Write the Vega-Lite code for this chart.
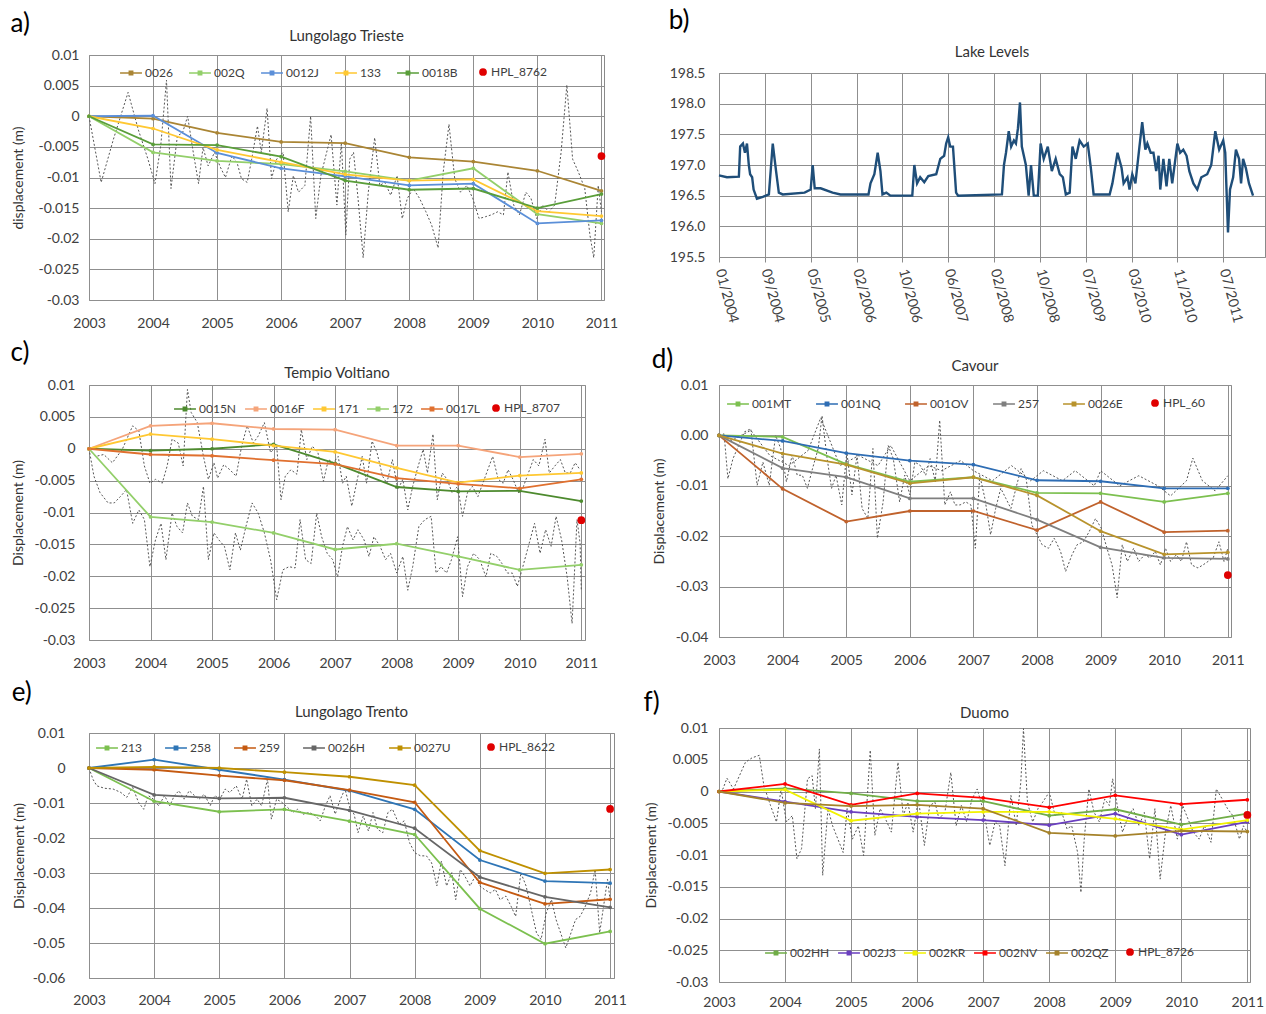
{
"$schema": "https://vega.github.io/schema/vega-lite/v6.json",
"background": "white",
"padding": {"left": 10, "top": 0, "right": 2, "bottom": 0},
"config": {
  "font": "Lato",
  "view": {"stroke": "#8a8a8a", "strokeWidth": 1},
  "axis": {"gridColor": "#8f8f8f", "gridWidth": 1, "domain": false, "ticks": false, "labelFont": "Lato", "labelFontSize": 14, "labelColor": "#404040", "titleFont": "Lato", "titleFontSize": 14, "titleFontWeight": "normal", "titleColor": "#333333"},
  "legend": {"orient": "none", "direction": "horizontal", "labelFont": "Lato", "labelFontSize": 12, "labelColor": "#404040", "symbolType": "M-1,0H1M-0.15,-0.15H0.15V0.15H-0.15Z", "symbolSize": 480, "symbolStrokeWidth": 1.6, "labelOffset": 2, "padding": 0},
  "title": {"font": "Lato", "fontWeight": "normal"}
},
"datasets": {
"spacer": [{"v": 0}],
"a_ln": [
{"series":"0026","year":2003,"disp":0},{"series":"0026","year":2004,"disp":-0.0004},{"series":"0026","year":2005,"disp":-0.0027},{"series":"0026","year":2006,"disp":-0.0042},{"series":"0026","year":2007,"disp":-0.0044},{"series":"0026","year":2008,"disp":-0.0067},{"series":"0026","year":2009,"disp":-0.0074},{"series":"0026","year":2010,"disp":-0.0089},{"series":"0026","year":2011,"disp":-0.0122},
{"series":"002Q","year":2003,"disp":0},{"series":"002Q","year":2004,"disp":-0.0059},{"series":"002Q","year":2005,"disp":-0.0073},{"series":"002Q","year":2006,"disp":-0.0078},{"series":"002Q","year":2007,"disp":-0.009},{"series":"002Q","year":2008,"disp":-0.0105},{"series":"002Q","year":2009,"disp":-0.0085},{"series":"002Q","year":2010,"disp":-0.016},{"series":"002Q","year":2011,"disp":-0.0175},
{"series":"0012J","year":2003,"disp":0},{"series":"0012J","year":2004,"disp":0.0001},{"series":"0012J","year":2005,"disp":-0.006},{"series":"0012J","year":2006,"disp":-0.0085},{"series":"0012J","year":2007,"disp":-0.0098},{"series":"0012J","year":2008,"disp":-0.0113},{"series":"0012J","year":2009,"disp":-0.011},{"series":"0012J","year":2010,"disp":-0.0175},{"series":"0012J","year":2011,"disp":-0.017},
{"series":"133","year":2003,"disp":0},{"series":"133","year":2004,"disp":-0.002},{"series":"133","year":2005,"disp":-0.0055},{"series":"133","year":2006,"disp":-0.0075},{"series":"133","year":2007,"disp":-0.0095},{"series":"133","year":2008,"disp":-0.0105},{"series":"133","year":2009,"disp":-0.0103},{"series":"133","year":2010,"disp":-0.0155},{"series":"133","year":2011,"disp":-0.0163},
{"series":"0018B","year":2003,"disp":0},{"series":"0018B","year":2004,"disp":-0.0046},{"series":"0018B","year":2005,"disp":-0.0047},{"series":"0018B","year":2006,"disp":-0.0066},{"series":"0018B","year":2007,"disp":-0.0105},{"series":"0018B","year":2008,"disp":-0.012},{"series":"0018B","year":2009,"disp":-0.0118},{"series":"0018B","year":2010,"disp":-0.015},{"series":"0018B","year":2011,"disp":-0.0127}
],
"a_hpl": [{"series":"HPL_8762","year":2011,"disp":-0.0065}],
"a_dot": [
{"year":2003,"disp":0},{"year":2003.19,"disp":-0.0108},{"year":2003.38,"disp":-0.0038},{"year":2003.61,"disp":0.0039},{"year":2003.77,"disp":-0.0022},{"year":2003.92,"disp":-0.007},{"year":2004.03,"disp":-0.011},{"year":2004.12,"disp":-0.0048},{"year":2004.21,"disp":0.0059},{"year":2004.28,"disp":-0.0118},{"year":2004.38,"disp":-0.0032},{"year":2004.46,"disp":-0.0027},{"year":2004.54,"disp":0},{"year":2004.62,"disp":-0.0054},{"year":2004.71,"disp":-0.011},{"year":2004.78,"disp":-0.0051},{"year":2004.86,"disp":-0.0081},{"year":2004.96,"disp":-0.0059},{"year":2005.05,"disp":-0.0083},{"year":2005.13,"disp":-0.01},{"year":2005.23,"disp":-0.0065},{"year":2005.31,"disp":-0.0075},{"year":2005.38,"disp":-0.0102},{"year":2005.47,"disp":-0.0108},{"year":2005.54,"disp":-0.007},{"year":2005.63,"disp":-0.0016},{"year":2005.69,"disp":-0.0059},{"year":2005.78,"disp":0.0013},{"year":2005.85,"disp":-0.0102},{"year":2005.93,"disp":-0.007},{"year":2006.03,"disp":-0.0059},{"year":2006.11,"disp":-0.0156},{"year":2006.19,"disp":-0.0097},{"year":2006.27,"disp":-0.0124},{"year":2006.37,"disp":-0.0113},{"year":2006.46,"disp":0},{"year":2006.54,"disp":-0.0167},{"year":2006.62,"disp":-0.0097},{"year":2006.71,"disp":-0.0059},{"year":2006.78,"disp":-0.003},{"year":2006.87,"disp":-0.0145},{"year":2006.94,"disp":-0.0043},{"year":2007.01,"disp":-0.0194},{"year":2007.07,"disp":-0.007},{"year":2007.13,"disp":-0.0059},{"year":2007.2,"disp":-0.0134},{"year":2007.28,"disp":-0.0231},{"year":2007.36,"disp":-0.0124},{"year":2007.46,"disp":-0.0035},{"year":2007.54,"disp":-0.0113},{"year":2007.62,"disp":-0.0108},{"year":2007.71,"disp":-0.0129},{"year":2007.81,"disp":-0.0097},{"year":2007.89,"disp":-0.0167},{"year":2007.97,"disp":-0.0134},{"year":2008.06,"disp":-0.0118},{"year":2008.16,"disp":-0.0134},{"year":2008.26,"disp":-0.0156},{"year":2008.35,"disp":-0.0178},{"year":2008.45,"disp":-0.0215},{"year":2008.53,"disp":-0.0091},{"year":2008.62,"disp":-0.0013},{"year":2008.71,"disp":-0.0102},{"year":2008.8,"disp":-0.0124},{"year":2008.9,"disp":-0.0113},{"year":2008.99,"disp":-0.0134},{"year":2009.09,"disp":-0.0167},{"year":2009.19,"disp":-0.0164},{"year":2009.28,"disp":-0.0161},{"year":2009.38,"disp":-0.0156},{"year":2009.47,"disp":-0.0161},{"year":2009.54,"disp":-0.0091},{"year":2009.63,"disp":-0.0145},{"year":2009.72,"disp":-0.0161},{"year":2009.82,"disp":-0.0124},{"year":2009.9,"disp":-0.0134},{"year":2009.99,"disp":-0.0167},{"year":2010.08,"disp":-0.0145},{"year":2010.18,"disp":-0.0156},{"year":2010.27,"disp":-0.0145},{"year":2010.37,"disp":-0.0059},{"year":2010.46,"disp":0.0051},{"year":2010.55,"disp":-0.007},{"year":2010.64,"disp":-0.0091},{"year":2010.74,"disp":-0.0118},{"year":2010.82,"disp":-0.0194},{"year":2010.88,"disp":-0.0231},{"year":2010.95,"disp":-0.0113},{"year":2011,"disp":-0.0156}
],
"lake": [
{"date":"2004-01-18","level":196.83},{"date":"2004-03-01","level":196.8},{"date":"2004-05-05","level":196.81},{"date":"2004-05-12","level":197.3},{"date":"2004-05-27","level":197.35},{"date":"2004-06-07","level":197.2},{"date":"2004-06-18","level":197.35},{"date":"2004-06-28","level":197.0},{"date":"2004-07-05","level":196.85},{"date":"2004-07-16","level":196.8},{"date":"2004-07-24","level":196.6},{"date":"2004-08-11","level":196.45},{"date":"2004-09-12","level":196.48},{"date":"2004-10-15","level":196.52},{"date":"2004-11-05","level":197.35},{"date":"2004-11-23","level":196.9},{"date":"2004-12-08","level":196.55},{"date":"2004-12-29","level":196.52},{"date":"2005-04-27","level":196.55},{"date":"2005-05-30","level":196.6},{"date":"2005-06-10","level":197.0},{"date":"2005-06-21","level":196.62},{"date":"2005-07-23","level":196.62},{"date":"2005-09-26","level":196.55},{"date":"2005-11-08","level":196.52},{"date":"2006-04-09","level":196.52},{"date":"2006-04-20","level":196.7},{"date":"2006-05-11","level":196.85},{"date":"2006-05-29","level":197.2},{"date":"2006-06-13","level":196.9},{"date":"2006-06-24","level":196.52},{"date":"2006-07-15","level":196.55},{"date":"2006-08-06","level":196.5},{"date":"2006-12-03","level":196.5},{"date":"2006-12-14","level":197.0},{"date":"2006-12-29","level":196.7},{"date":"2007-01-15","level":196.8},{"date":"2007-02-06","level":196.72},{"date":"2007-02-28","level":196.82},{"date":"2007-04-12","level":196.85},{"date":"2007-05-04","level":197.1},{"date":"2007-05-25","level":197.15},{"date":"2007-06-05","level":197.35},{"date":"2007-06-16","level":197.45},{"date":"2007-06-27","level":197.3},{"date":"2007-07-12","level":197.3},{"date":"2007-07-29","level":196.55},{"date":"2007-08-09","level":196.5},{"date":"2008-04-03","level":196.52},{"date":"2008-04-14","level":197.0},{"date":"2008-04-25","level":197.2},{"date":"2008-05-10","level":197.55},{"date":"2008-05-23","level":197.3},{"date":"2008-06-07","level":197.4},{"date":"2008-06-18","level":197.35},{"date":"2008-06-29","level":197.6},{"date":"2008-07-10","level":198.02},{"date":"2008-07-20","level":197.3},{"date":"2008-08-11","level":197.0},{"date":"2008-08-26","level":196.5},{"date":"2008-09-08","level":197.0},{"date":"2008-09-23","level":196.5},{"date":"2008-10-15","level":196.5},{"date":"2008-10-30","level":197.35},{"date":"2008-11-16","level":197.1},{"date":"2008-12-08","level":197.3},{"date":"2008-12-30","level":196.9},{"date":"2009-01-20","level":197.1},{"date":"2009-02-11","level":196.85},{"date":"2009-02-28","level":196.8},{"date":"2009-03-16","level":196.52},{"date":"2009-04-06","level":196.55},{"date":"2009-04-21","level":197.3},{"date":"2009-05-09","level":197.1},{"date":"2009-05-30","level":197.4},{"date":"2009-06-21","level":197.3},{"date":"2009-07-13","level":197.35},{"date":"2009-07-30","level":196.95},{"date":"2009-08-14","level":196.52},{"date":"2009-11-09","level":196.52},{"date":"2009-11-24","level":196.7},{"date":"2009-12-22","level":197.2},{"date":"2010-01-13","level":196.95},{"date":"2010-01-24","level":196.7},{"date":"2010-02-14","level":196.8},{"date":"2010-02-25","level":196.6},{"date":"2010-03-12","level":196.85},{"date":"2010-03-29","level":196.7},{"date":"2010-04-20","level":197.3},{"date":"2010-05-05","level":197.7},{"date":"2010-05-22","level":197.25},{"date":"2010-06-02","level":197.35},{"date":"2010-06-20","level":197.2},{"date":"2010-07-05","level":197.2},{"date":"2010-07-20","level":196.9},{"date":"2010-08-02","level":197.15},{"date":"2010-08-11","level":196.6},{"date":"2010-08-28","level":197.1},{"date":"2010-09-14","level":196.65},{"date":"2010-09-29","level":197.1},{"date":"2010-10-15","level":196.7},{"date":"2010-11-12","level":197.35},{"date":"2010-11-27","level":197.2},{"date":"2010-12-14","level":197.25},{"date":"2011-01-01","level":197.15},{"date":"2011-01-16","level":196.9},{"date":"2011-02-07","level":196.7},{"date":"2011-02-28","level":196.6},{"date":"2011-03-22","level":196.8},{"date":"2011-04-23","level":196.85},{"date":"2011-05-15","level":197.0},{"date":"2011-06-06","level":197.55},{"date":"2011-06-27","level":197.25},{"date":"2011-07-19","level":197.4},{"date":"2011-07-30","level":197.2},{"date":"2011-08-14","level":195.9},{"date":"2011-08-25","level":196.6},{"date":"2011-09-11","level":196.8},{"date":"2011-09-26","level":197.25},{"date":"2011-10-13","level":197.1},{"date":"2011-10-24","level":196.7},{"date":"2011-11-04","level":197.1},{"date":"2011-11-19","level":196.95},{"date":"2011-12-06","level":196.7},{"date":"2011-12-28","level":196.5}
],
"c_ln": [
{"series":"0015N","year":2003,"disp":0},{"series":"0015N","year":2004,"disp":-0.0003},{"series":"0015N","year":2005,"disp":0},{"series":"0015N","year":2006,"disp":0.0007},{"series":"0015N","year":2007,"disp":-0.0023},{"series":"0015N","year":2008,"disp":-0.006},{"series":"0015N","year":2009,"disp":-0.0067},{"series":"0015N","year":2010,"disp":-0.0066},{"series":"0015N","year":2011,"disp":-0.0082},
{"series":"0016F","year":2003,"disp":0},{"series":"0016F","year":2004,"disp":0.0036},{"series":"0016F","year":2005,"disp":0.004},{"series":"0016F","year":2006,"disp":0.0031},{"series":"0016F","year":2007,"disp":0.003},{"series":"0016F","year":2008,"disp":0.0005},{"series":"0016F","year":2009,"disp":0.0005},{"series":"0016F","year":2010,"disp":-0.0013},{"series":"0016F","year":2011,"disp":-0.0008},
{"series":"171","year":2003,"disp":0},{"series":"171","year":2004,"disp":0.0023},{"series":"171","year":2005,"disp":0.0015},{"series":"171","year":2006,"disp":0.0005},{"series":"171","year":2007,"disp":-0.0005},{"series":"171","year":2008,"disp":-0.003},{"series":"171","year":2009,"disp":-0.0053},{"series":"171","year":2010,"disp":-0.0042},{"series":"171","year":2011,"disp":-0.0038},
{"series":"172","year":2003,"disp":0},{"series":"172","year":2004,"disp":-0.0107},{"series":"172","year":2005,"disp":-0.0115},{"series":"172","year":2006,"disp":-0.0132},{"series":"172","year":2007,"disp":-0.0158},{"series":"172","year":2008,"disp":-0.0149},{"series":"172","year":2009,"disp":-0.0169},{"series":"172","year":2010,"disp":-0.019},{"series":"172","year":2011,"disp":-0.0182},
{"series":"0017L","year":2003,"disp":0},{"series":"0017L","year":2004,"disp":-0.0009},{"series":"0017L","year":2005,"disp":-0.0011},{"series":"0017L","year":2006,"disp":-0.0018},{"series":"0017L","year":2007,"disp":-0.0024},{"series":"0017L","year":2008,"disp":-0.0046},{"series":"0017L","year":2009,"disp":-0.0055},{"series":"0017L","year":2010,"disp":-0.0062},{"series":"0017L","year":2011,"disp":-0.0048}
],
"c_hpl": [{"series":"HPL_8707","year":2011,"disp":-0.0112}],
"c_dot": [
{"trace":"u","year":2003,"disp":0},{"trace":"u","year":2003.11,"disp":-0.0012},{"trace":"u","year":2003.24,"disp":-0.0009},{"trace":"u","year":2003.38,"disp":-0.0022},{"trace":"u","year":2003.54,"disp":-0.0001},{"trace":"u","year":2003.71,"disp":0.0036},{"trace":"u","year":2003.81,"disp":0.0028},{"trace":"u","year":2003.9,"disp":-0.0027},{"trace":"u","year":2003.99,"disp":-0.0054},{"trace":"u","year":2004.08,"disp":-0.0048},{"trace":"u","year":2004.19,"disp":-0.0054},{"trace":"u","year":2004.27,"disp":-0.0027},{"trace":"u","year":2004.35,"disp":0.0015},{"trace":"u","year":2004.45,"disp":0.0009},{"trace":"u","year":2004.53,"disp":-0.0027},{"trace":"u","year":2004.6,"disp":0.0093},{"trace":"u","year":2004.66,"disp":0.0057},{"trace":"u","year":2004.76,"disp":0.0041},{"trace":"u","year":2004.86,"disp":-0.0012},{"trace":"u","year":2004.94,"disp":-0.0048},{"trace":"u","year":2005.03,"disp":-0.0022},{"trace":"u","year":2005.09,"disp":-0.0046},{"trace":"u","year":2005.19,"disp":-0.0025},{"trace":"u","year":2005.29,"disp":-0.0033},{"trace":"u","year":2005.39,"disp":-0.0043},{"trace":"u","year":2005.48,"disp":0.0004},{"trace":"u","year":2005.57,"disp":0.0036},{"trace":"u","year":2005.67,"disp":0.0009},{"trace":"u","year":2005.75,"disp":0.002},{"trace":"u","year":2005.85,"disp":0.0041},{"trace":"u","year":2005.95,"disp":-0.0006},{"trace":"u","year":2006.05,"disp":0.0004},{"trace":"u","year":2006.12,"disp":-0.008},{"trace":"u","year":2006.19,"disp":-0.0043},{"trace":"u","year":2006.28,"disp":-0.0033},{"trace":"u","year":2006.38,"disp":-0.004},{"trace":"u","year":2006.45,"disp":0.003},{"trace":"u","year":2006.54,"disp":-0.0017},{"trace":"u","year":2006.63,"disp":0.0004},{"trace":"u","year":2006.72,"disp":-0.0006},{"trace":"u","year":2006.81,"disp":-0.0051},{"trace":"u","year":2006.89,"disp":-0.0017},{"trace":"u","year":2006.97,"disp":-0.0022},{"trace":"u","year":2007.05,"disp":-0.0012},{"trace":"u","year":2007.12,"disp":-0.0054},{"trace":"u","year":2007.18,"disp":-0.0043},{"trace":"u","year":2007.27,"disp":-0.009},{"trace":"u","year":2007.36,"disp":-0.0048},{"trace":"u","year":2007.44,"disp":-0.0012},{"trace":"u","year":2007.51,"disp":-0.0054},{"trace":"u","year":2007.6,"disp":0.0012},{"trace":"u","year":2007.68,"disp":-0.0006},{"trace":"u","year":2007.77,"disp":-0.0043},{"trace":"u","year":2007.84,"disp":-0.0054},{"trace":"u","year":2007.93,"disp":-0.0017},{"trace":"u","year":2008.02,"disp":-0.0064},{"trace":"u","year":2008.1,"disp":-0.0048},{"trace":"u","year":2008.18,"disp":-0.0096},{"trace":"u","year":2008.26,"disp":-0.0059},{"trace":"u","year":2008.35,"disp":-0.0027},{"trace":"u","year":2008.43,"disp":-0.0001},{"trace":"u","year":2008.5,"disp":-0.0038},{"trace":"u","year":2008.59,"disp":0.0023},{"trace":"u","year":2008.66,"disp":-0.008},{"trace":"u","year":2008.74,"disp":-0.0038},{"trace":"u","year":2008.82,"disp":-0.0048},{"trace":"u","year":2008.9,"disp":-0.0069},{"trace":"u","year":2008.99,"disp":-0.0059},{"trace":"u","year":2009.07,"disp":-0.0106},{"trace":"u","year":2009.15,"disp":-0.0069},{"trace":"u","year":2009.23,"disp":-0.0059},{"trace":"u","year":2009.32,"disp":-0.0075},{"trace":"u","year":2009.4,"disp":-0.0054},{"trace":"u","year":2009.48,"disp":-0.0033},{"trace":"u","year":2009.56,"disp":-0.0012},{"trace":"u","year":2009.65,"disp":-0.0048},{"trace":"u","year":2009.73,"disp":-0.0054},{"trace":"u","year":2009.81,"disp":-0.0033},{"trace":"u","year":2009.89,"disp":-0.0048},{"trace":"u","year":2009.98,"disp":-0.0069},{"trace":"u","year":2010.06,"disp":-0.0059},{"trace":"u","year":2010.14,"disp":-0.0038},{"trace":"u","year":2010.22,"disp":-0.0017},{"trace":"u","year":2010.31,"disp":-0.0027},{"trace":"u","year":2010.41,"disp":0.0015},{"trace":"u","year":2010.48,"disp":-0.0038},{"trace":"u","year":2010.57,"disp":-0.0027},{"trace":"u","year":2010.66,"disp":-0.0017},{"trace":"u","year":2010.74,"disp":-0.0038},{"trace":"u","year":2010.82,"disp":-0.0038},{"trace":"u","year":2010.9,"disp":-0.0022},{"trace":"u","year":2010.98,"disp":-0.0033},
{"trace":"l","year":2003,"disp":0},{"trace":"l","year":2003.08,"disp":-0.0043},{"trace":"l","year":2003.18,"disp":-0.0069},{"trace":"l","year":2003.31,"disp":-0.0085},{"trace":"l","year":2003.41,"disp":-0.0085},{"trace":"l","year":2003.51,"disp":-0.0075},{"trace":"l","year":2003.61,"disp":-0.0064},{"trace":"l","year":2003.71,"disp":-0.0117},{"trace":"l","year":2003.81,"disp":-0.0096},{"trace":"l","year":2003.9,"disp":-0.0111},{"trace":"l","year":2003.99,"disp":-0.0185},{"trace":"l","year":2004.08,"disp":-0.0143},{"trace":"l","year":2004.17,"disp":-0.0117},{"trace":"l","year":2004.25,"disp":-0.0174},{"trace":"l","year":2004.35,"disp":-0.0101},{"trace":"l","year":2004.43,"disp":-0.0122},{"trace":"l","year":2004.52,"disp":-0.0132},{"trace":"l","year":2004.6,"disp":-0.0085},{"trace":"l","year":2004.68,"disp":-0.0106},{"trace":"l","year":2004.78,"disp":-0.0111},{"trace":"l","year":2004.86,"disp":-0.0059},{"trace":"l","year":2004.94,"disp":-0.0174},{"trace":"l","year":2005.03,"disp":-0.0132},{"trace":"l","year":2005.11,"disp":-0.0143},{"trace":"l","year":2005.2,"disp":-0.0153},{"trace":"l","year":2005.29,"disp":-0.019},{"trace":"l","year":2005.38,"disp":-0.0132},{"trace":"l","year":2005.46,"disp":-0.0159},{"trace":"l","year":2005.55,"disp":-0.0122},{"trace":"l","year":2005.65,"disp":-0.0085},{"trace":"l","year":2005.75,"disp":-0.0101},{"trace":"l","year":2005.85,"disp":-0.0132},{"trace":"l","year":2005.95,"disp":-0.0174},{"trace":"l","year":2006.05,"disp":-0.0237},{"trace":"l","year":2006.15,"disp":-0.019},{"trace":"l","year":2006.25,"disp":-0.0185},{"trace":"l","year":2006.35,"disp":-0.0187},{"trace":"l","year":2006.43,"disp":-0.0111},{"trace":"l","year":2006.52,"disp":-0.0174},{"trace":"l","year":2006.61,"disp":-0.018},{"trace":"l","year":2006.7,"disp":-0.0101},{"trace":"l","year":2006.78,"disp":-0.0138},{"trace":"l","year":2006.87,"disp":-0.0164},{"trace":"l","year":2006.96,"disp":-0.0174},{"trace":"l","year":2007.04,"disp":-0.0201},{"trace":"l","year":2007.12,"disp":-0.0153},{"trace":"l","year":2007.2,"disp":-0.0122},{"trace":"l","year":2007.29,"disp":-0.0143},{"trace":"l","year":2007.37,"disp":-0.0127},{"trace":"l","year":2007.47,"disp":-0.0143},{"trace":"l","year":2007.55,"disp":-0.0169},{"trace":"l","year":2007.63,"disp":-0.0138},{"trace":"l","year":2007.73,"disp":-0.0153},{"trace":"l","year":2007.82,"disp":-0.0174},{"trace":"l","year":2007.9,"disp":-0.0164},{"trace":"l","year":2008.0,"disp":-0.0195},{"trace":"l","year":2008.1,"disp":-0.0169},{"trace":"l","year":2008.18,"disp":-0.0222},{"trace":"l","year":2008.26,"disp":-0.0185},{"trace":"l","year":2008.36,"disp":-0.0122},{"trace":"l","year":2008.46,"disp":-0.0111},{"trace":"l","year":2008.56,"disp":-0.0106},{"trace":"l","year":2008.64,"disp":-0.0195},{"trace":"l","year":2008.72,"disp":-0.0185},{"trace":"l","year":2008.81,"disp":-0.0195},{"trace":"l","year":2008.89,"disp":-0.0174},{"trace":"l","year":2008.99,"disp":-0.0138},{"trace":"l","year":2009.07,"disp":-0.0232},{"trace":"l","year":2009.15,"disp":-0.0185},{"trace":"l","year":2009.25,"disp":-0.0164},{"trace":"l","year":2009.35,"disp":-0.0174},{"trace":"l","year":2009.45,"disp":-0.0201},{"trace":"l","year":2009.53,"disp":-0.0164},{"trace":"l","year":2009.63,"disp":-0.0169},{"trace":"l","year":2009.71,"disp":-0.018},{"trace":"l","year":2009.8,"disp":-0.0195},{"trace":"l","year":2009.88,"disp":-0.0195},{"trace":"l","year":2009.96,"disp":-0.0216},{"trace":"l","year":2010.05,"disp":-0.0185},{"trace":"l","year":2010.14,"disp":-0.0153},{"trace":"l","year":2010.24,"disp":-0.0117},{"trace":"l","year":2010.33,"disp":-0.0164},{"trace":"l","year":2010.42,"disp":-0.0127},{"trace":"l","year":2010.51,"disp":-0.0153},{"trace":"l","year":2010.59,"disp":-0.0106},{"trace":"l","year":2010.68,"disp":-0.0143},{"trace":"l","year":2010.77,"disp":-0.0201},{"trace":"l","year":2010.85,"disp":-0.0274},{"trace":"l","year":2010.93,"disp":-0.0111},{"trace":"l","year":2010.98,"disp":-0.0148},{"trace":"l","year":2011,"disp":-0.0222}
],
"d_ln": [
{"series":"001MT","year":2003,"disp":0},{"series":"001MT","year":2004,"disp":-0.0003},{"series":"001MT","year":2005,"disp":-0.0057},{"series":"001MT","year":2006,"disp":-0.0092},{"series":"001MT","year":2007,"disp":-0.0083},{"series":"001MT","year":2008,"disp":-0.0114},{"series":"001MT","year":2009,"disp":-0.0115},{"series":"001MT","year":2010,"disp":-0.0132},{"series":"001MT","year":2011,"disp":-0.0115},
{"series":"001NQ","year":2003,"disp":0},{"series":"001NQ","year":2004,"disp":-0.0011},{"series":"001NQ","year":2005,"disp":-0.0035},{"series":"001NQ","year":2006,"disp":-0.005},{"series":"001NQ","year":2007,"disp":-0.0058},{"series":"001NQ","year":2008,"disp":-0.0089},{"series":"001NQ","year":2009,"disp":-0.0091},{"series":"001NQ","year":2010,"disp":-0.0105},{"series":"001NQ","year":2011,"disp":-0.0105},
{"series":"001OV","year":2003,"disp":0},{"series":"001OV","year":2004,"disp":-0.0106},{"series":"001OV","year":2005,"disp":-0.0171},{"series":"001OV","year":2006,"disp":-0.015},{"series":"001OV","year":2007,"disp":-0.015},{"series":"001OV","year":2008,"disp":-0.0188},{"series":"001OV","year":2009,"disp":-0.0132},{"series":"001OV","year":2010,"disp":-0.0192},{"series":"001OV","year":2011,"disp":-0.0189},
{"series":"257","year":2003,"disp":0},{"series":"257","year":2004,"disp":-0.0065},{"series":"257","year":2005,"disp":-0.0083},{"series":"257","year":2006,"disp":-0.0125},{"series":"257","year":2007,"disp":-0.0125},{"series":"257","year":2008,"disp":-0.0167},{"series":"257","year":2009,"disp":-0.0222},{"series":"257","year":2010,"disp":-0.0243},{"series":"257","year":2011,"disp":-0.0245},
{"series":"0026E","year":2003,"disp":0},{"series":"0026E","year":2004,"disp":-0.0036},{"series":"0026E","year":2005,"disp":-0.0058},{"series":"0026E","year":2006,"disp":-0.0095},{"series":"0026E","year":2007,"disp":-0.0083},{"series":"0026E","year":2008,"disp":-0.0119},{"series":"0026E","year":2009,"disp":-0.019},{"series":"0026E","year":2010,"disp":-0.0236},{"series":"0026E","year":2011,"disp":-0.0232}
],
"d_hpl": [{"series":"HPL_60","year":2011,"disp":-0.0277}],
"d_dot": [
{"trace":"u","year":2003,"disp":0},{"trace":"u","year":2003.2,"disp":-0.001},{"trace":"u","year":2003.5,"disp":0.001},{"trace":"u","year":2003.8,"disp":-0.004},{"trace":"u","year":2004.1,"disp":-0.006},{"trace":"u","year":2004.4,"disp":-0.003},{"trace":"u","year":2004.6,"disp":0.0035},{"trace":"u","year":2004.9,"disp":-0.006},{"trace":"u","year":2005.2,"disp":-0.004},{"trace":"u","year":2005.5,"disp":-0.006},{"trace":"u","year":2005.7,"disp":-0.002},{"trace":"u","year":2006.0,"disp":-0.009},{"trace":"u","year":2006.3,"disp":-0.006},{"trace":"u","year":2006.5,"disp":-0.007},{"trace":"u","year":2006.8,"disp":-0.005},{"trace":"u","year":2007.0,"disp":-0.007},{"trace":"u","year":2007.3,"disp":-0.009},{"trace":"u","year":2007.6,"disp":-0.006},{"trace":"u","year":2007.9,"disp":-0.009},{"trace":"u","year":2008.1,"disp":-0.007},{"trace":"u","year":2008.4,"disp":-0.009},{"trace":"u","year":2008.6,"disp":-0.007},{"trace":"u","year":2008.9,"disp":-0.01},{"trace":"u","year":2009.0,"disp":-0.007},{"trace":"u","year":2009.3,"disp":-0.01},{"trace":"u","year":2009.6,"disp":-0.008},{"trace":"u","year":2009.9,"disp":-0.01},{"trace":"u","year":2010.1,"disp":-0.012},{"trace":"u","year":2010.35,"disp":-0.009},{"trace":"u","year":2010.45,"disp":-0.0045},{"trace":"u","year":2010.6,"disp":-0.009},{"trace":"u","year":2010.8,"disp":-0.011},{"trace":"u","year":2011,"disp":-0.008},
{"trace":"l","year":2003,"disp":0},{"trace":"l","year":2003.08,"disp":0.0003},{"trace":"l","year":2003.14,"disp":-0.0086},{"trace":"l","year":2003.22,"disp":-0.0046},{"trace":"l","year":2003.31,"disp":-0.002},{"trace":"l","year":2003.4,"disp":0.0007},{"trace":"l","year":2003.5,"disp":0.0013},{"trace":"l","year":2003.6,"disp":-0.0099},{"trace":"l","year":2003.69,"disp":-0.0053},{"trace":"l","year":2003.79,"disp":-0.0099},{"trace":"l","year":2003.89,"disp":0},{"trace":"l","year":2003.97,"disp":-0.0026},{"trace":"l","year":2004.06,"disp":-0.0092},{"trace":"l","year":2004.15,"disp":-0.0039},{"trace":"l","year":2004.23,"disp":-0.0079},{"trace":"l","year":2004.31,"disp":-0.0079},{"trace":"l","year":2004.39,"disp":-0.0105},{"trace":"l","year":2004.47,"disp":-0.0066},{"trace":"l","year":2004.56,"disp":-0.0026},{"trace":"l","year":2004.62,"disp":0.0039},{"trace":"l","year":2004.7,"disp":-0.0046},{"trace":"l","year":2004.77,"disp":-0.0105},{"trace":"l","year":2004.84,"disp":-0.0079},{"trace":"l","year":2004.93,"disp":-0.0138},{"trace":"l","year":2005.01,"disp":-0.0033},{"trace":"l","year":2005.09,"disp":-0.0118},{"trace":"l","year":2005.17,"disp":-0.0039},{"trace":"l","year":2005.25,"disp":-0.0145},{"trace":"l","year":2005.34,"disp":-0.0165},{"trace":"l","year":2005.42,"disp":-0.0026},{"trace":"l","year":2005.49,"disp":-0.0204},{"trace":"l","year":2005.58,"disp":-0.0132},{"trace":"l","year":2005.66,"disp":-0.002},{"trace":"l","year":2005.74,"disp":-0.0046},{"trace":"l","year":2005.84,"disp":-0.0132},{"trace":"l","year":2005.92,"disp":-0.0079},{"trace":"l","year":2006.0,"disp":-0.0118},{"trace":"l","year":2006.08,"disp":-0.0053},{"trace":"l","year":2006.16,"disp":-0.0059},{"trace":"l","year":2006.25,"disp":-0.0079},{"trace":"l","year":2006.32,"disp":-0.0046},{"trace":"l","year":2006.4,"disp":-0.0092},{"trace":"l","year":2006.47,"disp":0.003},{"trace":"l","year":2006.55,"disp":-0.0138},{"trace":"l","year":2006.64,"disp":-0.0112},{"trace":"l","year":2006.71,"disp":-0.0138},{"trace":"l","year":2006.79,"disp":-0.0138},{"trace":"l","year":2006.88,"disp":-0.0132},{"trace":"l","year":2006.96,"disp":-0.0138},{"trace":"l","year":2007.03,"disp":-0.0224},{"trace":"l","year":2007.1,"disp":-0.0079},{"trace":"l","year":2007.18,"disp":-0.0125},{"trace":"l","year":2007.27,"disp":-0.0197},{"trace":"l","year":2007.35,"disp":-0.0145},{"trace":"l","year":2007.43,"disp":-0.0105},{"trace":"l","year":2007.51,"disp":-0.0125},{"trace":"l","year":2007.59,"disp":-0.0145},{"trace":"l","year":2007.68,"disp":-0.0099},{"trace":"l","year":2007.75,"disp":-0.0066},{"trace":"l","year":2007.83,"disp":-0.0086},{"trace":"l","year":2007.92,"disp":-0.0178},{"trace":"l","year":2008.0,"disp":-0.0197},{"trace":"l","year":2008.08,"disp":-0.0217},{"trace":"l","year":2008.18,"disp":-0.0224},{"trace":"l","year":2008.27,"disp":-0.0204},{"trace":"l","year":2008.37,"disp":-0.023},{"trace":"l","year":2008.45,"disp":-0.027},{"trace":"l","year":2008.55,"disp":-0.0237},{"trace":"l","year":2008.63,"disp":-0.0217},{"trace":"l","year":2008.73,"disp":-0.0211},{"trace":"l","year":2008.82,"disp":-0.0191},{"trace":"l","year":2008.92,"disp":-0.0165},{"trace":"l","year":2009.01,"disp":-0.0184},{"trace":"l","year":2009.1,"disp":-0.0224},{"trace":"l","year":2009.18,"disp":-0.0257},{"trace":"l","year":2009.26,"disp":-0.0322},{"trace":"l","year":2009.34,"disp":-0.0217},{"trace":"l","year":2009.42,"disp":-0.025},{"trace":"l","year":2009.52,"disp":-0.0224},{"trace":"l","year":2009.6,"disp":-0.025},{"trace":"l","year":2009.69,"disp":-0.0237},{"trace":"l","year":2009.78,"disp":-0.0243},{"trace":"l","year":2009.86,"disp":-0.023},{"trace":"l","year":2009.94,"disp":-0.0257},{"trace":"l","year":2010.02,"disp":-0.0224},{"trace":"l","year":2010.1,"disp":-0.025},{"trace":"l","year":2010.19,"disp":-0.0237},{"trace":"l","year":2010.27,"disp":-0.025},{"trace":"l","year":2010.35,"disp":-0.0211},{"trace":"l","year":2010.43,"disp":-0.0257},{"trace":"l","year":2010.53,"disp":-0.0263},{"trace":"l","year":2010.61,"disp":-0.0257},{"trace":"l","year":2010.69,"disp":-0.025},{"trace":"l","year":2010.77,"disp":-0.0243},{"trace":"l","year":2010.86,"disp":-0.0211},{"trace":"l","year":2010.94,"disp":-0.025},{"trace":"l","year":2011,"disp":-0.0224}
],
"e_ln": [
{"series":"213","year":2003,"disp":0},{"series":"213","year":2004,"disp":-0.0095},{"series":"213","year":2005,"disp":-0.0125},{"series":"213","year":2006,"disp":-0.0118},{"series":"213","year":2007,"disp":-0.0152},{"series":"213","year":2008,"disp":-0.019},{"series":"213","year":2009,"disp":-0.0402},{"series":"213","year":2010,"disp":-0.0502},{"series":"213","year":2011,"disp":-0.0467},
{"series":"258","year":2003,"disp":0},{"series":"258","year":2004,"disp":0.0024},{"series":"258","year":2005,"disp":-0.0005},{"series":"258","year":2006,"disp":-0.0033},{"series":"258","year":2007,"disp":-0.0065},{"series":"258","year":2008,"disp":-0.0118},{"series":"258","year":2009,"disp":-0.0263},{"series":"258","year":2010,"disp":-0.0323},{"series":"258","year":2011,"disp":-0.0329},
{"series":"259","year":2003,"disp":0},{"series":"259","year":2004,"disp":-0.0005},{"series":"259","year":2005,"disp":-0.0022},{"series":"259","year":2006,"disp":-0.0035},{"series":"259","year":2007,"disp":-0.0063},{"series":"259","year":2008,"disp":-0.0098},{"series":"259","year":2009,"disp":-0.0327},{"series":"259","year":2010,"disp":-0.0388},{"series":"259","year":2011,"disp":-0.0375},
{"series":"0026H","year":2003,"disp":0},{"series":"0026H","year":2004,"disp":-0.0077},{"series":"0026H","year":2005,"disp":-0.0087},{"series":"0026H","year":2006,"disp":-0.0085},{"series":"0026H","year":2007,"disp":-0.0121},{"series":"0026H","year":2008,"disp":-0.0172},{"series":"0026H","year":2009,"disp":-0.0312},{"series":"0026H","year":2010,"disp":-0.0368},{"series":"0026H","year":2011,"disp":-0.0398},
{"series":"0027U","year":2003,"disp":0},{"series":"0027U","year":2004,"disp":0.0003},{"series":"0027U","year":2005,"disp":0},{"series":"0027U","year":2006,"disp":-0.0012},{"series":"0027U","year":2007,"disp":-0.0025},{"series":"0027U","year":2008,"disp":-0.0049},{"series":"0027U","year":2009,"disp":-0.0236},{"series":"0027U","year":2010,"disp":-0.0301},{"series":"0027U","year":2011,"disp":-0.029}
],
"e_hpl": [{"series":"HPL_8622","year":2011,"disp":-0.0117}],
"e_dot": [
{"year":2003,"disp":0},{"year":2003.06,"disp":-0.0032},{"year":2003.12,"disp":-0.0051},{"year":2003.24,"disp":-0.0058},{"year":2003.37,"disp":-0.006},{"year":2003.49,"disp":-0.007},{"year":2003.58,"disp":-0.0084},{"year":2003.67,"disp":-0.0055},{"year":2003.76,"disp":-0.0098},{"year":2003.84,"disp":-0.0118},{"year":2003.91,"disp":-0.0079},{"year":2003.99,"disp":-0.0089},{"year":2004.07,"disp":-0.0108},{"year":2004.16,"disp":-0.0079},{"year":2004.24,"disp":-0.0108},{"year":2004.31,"disp":-0.0079},{"year":2004.38,"disp":-0.0065},{"year":2004.46,"disp":-0.0089},{"year":2004.54,"disp":-0.0065},{"year":2004.62,"disp":-0.0079},{"year":2004.69,"disp":-0.0089},{"year":2004.77,"disp":-0.0075},{"year":2004.86,"disp":-0.0108},{"year":2004.93,"disp":-0.0079},{"year":2005.01,"disp":-0.0089},{"year":2005.09,"disp":-0.006},{"year":2005.16,"disp":-0.007},{"year":2005.26,"disp":-0.0051},{"year":2005.35,"disp":-0.0089},{"year":2005.42,"disp":-0.0032},{"year":2005.5,"disp":-0.0108},{"year":2005.58,"disp":-0.0089},{"year":2005.65,"disp":-0.0108},{"year":2005.74,"disp":-0.0032},{"year":2005.8,"disp":-0.0146},{"year":2005.88,"disp":-0.0089},{"year":2005.96,"disp":-0.0098},{"year":2006.05,"disp":-0.0113},{"year":2006.13,"disp":-0.0127},{"year":2006.2,"disp":-0.0118},{"year":2006.29,"disp":-0.0132},{"year":2006.38,"disp":-0.0127},{"year":2006.48,"disp":-0.0137},{"year":2006.55,"disp":-0.0151},{"year":2006.63,"disp":-0.0108},{"year":2006.7,"disp":-0.0079},{"year":2006.78,"disp":-0.0132},{"year":2006.86,"disp":-0.0089},{"year":2006.93,"disp":-0.006},{"year":2007.01,"disp":-0.0118},{"year":2007.07,"disp":-0.0132},{"year":2007.13,"disp":-0.0185},{"year":2007.21,"disp":-0.0137},{"year":2007.29,"disp":-0.018},{"year":2007.36,"disp":-0.0127},{"year":2007.43,"disp":-0.0175},{"year":2007.51,"disp":-0.0185},{"year":2007.59,"disp":-0.0127},{"year":2007.66,"disp":-0.0118},{"year":2007.76,"disp":-0.0161},{"year":2007.84,"disp":-0.0151},{"year":2007.92,"disp":-0.0213},{"year":2008.0,"disp":-0.0242},{"year":2008.09,"disp":-0.0251},{"year":2008.18,"disp":-0.0251},{"year":2008.26,"disp":-0.0271},{"year":2008.34,"disp":-0.0337},{"year":2008.41,"disp":-0.0266},{"year":2008.49,"disp":-0.0337},{"year":2008.57,"disp":-0.0299},{"year":2008.63,"disp":-0.0376},{"year":2008.7,"disp":-0.029},{"year":2008.77,"disp":-0.0309},{"year":2008.85,"disp":-0.0337},{"year":2008.93,"disp":-0.0309},{"year":2009.0,"disp":-0.0337},{"year":2009.07,"disp":-0.0347},{"year":2009.16,"disp":-0.0357},{"year":2009.24,"disp":-0.0347},{"year":2009.31,"disp":-0.0376},{"year":2009.4,"disp":-0.0366},{"year":2009.48,"disp":-0.0395},{"year":2009.55,"disp":-0.0424},{"year":2009.63,"disp":-0.0299},{"year":2009.71,"disp":-0.0337},{"year":2009.79,"disp":-0.0404},{"year":2009.87,"disp":-0.0471},{"year":2009.94,"disp":-0.049},{"year":2010.02,"disp":-0.0414},{"year":2010.1,"disp":-0.0376},{"year":2010.17,"disp":-0.0433},{"year":2010.24,"disp":-0.0471},{"year":2010.32,"disp":-0.0514},{"year":2010.4,"disp":-0.0471},{"year":2010.47,"disp":-0.0433},{"year":2010.54,"disp":-0.0424},{"year":2010.62,"disp":-0.0395},{"year":2010.7,"disp":-0.0357},{"year":2010.77,"disp":-0.029},{"year":2010.84,"disp":-0.0471},{"year":2010.9,"disp":-0.0395},{"year":2010.96,"disp":-0.0318},{"year":2011,"disp":-0.0376}
],
"f_ln": [
{"series":"002HH","year":2003,"disp":0},{"series":"002HH","year":2004,"disp":0.0005},{"series":"002HH","year":2005,"disp":-0.0003},{"series":"002HH","year":2006,"disp":-0.0015},{"series":"002HH","year":2007,"disp":-0.0015},{"series":"002HH","year":2008,"disp":-0.0038},{"series":"002HH","year":2009,"disp":-0.0028},{"series":"002HH","year":2010,"disp":-0.0052},{"series":"002HH","year":2011,"disp":-0.0035},
{"series":"002J3","year":2003,"disp":0},{"series":"002J3","year":2004,"disp":-0.0016},{"series":"002J3","year":2005,"disp":-0.0032},{"series":"002J3","year":2006,"disp":-0.004},{"series":"002J3","year":2007,"disp":-0.0045},{"series":"002J3","year":2008,"disp":-0.0053},{"series":"002J3","year":2009,"disp":-0.0035},{"series":"002J3","year":2010,"disp":-0.0068},{"series":"002J3","year":2011,"disp":-0.0048},
{"series":"002KR","year":2003,"disp":0},{"series":"002KR","year":2004,"disp":0.0003},{"series":"002KR","year":2005,"disp":-0.0046},{"series":"002KR","year":2006,"disp":-0.0035},{"series":"002KR","year":2007,"disp":-0.0032},{"series":"002KR","year":2008,"disp":-0.0032},{"series":"002KR","year":2009,"disp":-0.0043},{"series":"002KR","year":2010,"disp":-0.006},{"series":"002KR","year":2011,"disp":-0.0045},
{"series":"002NV","year":2003,"disp":0},{"series":"002NV","year":2004,"disp":0.0012},{"series":"002NV","year":2005,"disp":-0.0021},{"series":"002NV","year":2006,"disp":-0.0003},{"series":"002NV","year":2007,"disp":-0.001},{"series":"002NV","year":2008,"disp":-0.0025},{"series":"002NV","year":2009,"disp":-0.0006},{"series":"002NV","year":2010,"disp":-0.002},{"series":"002NV","year":2011,"disp":-0.0013},
{"series":"002QZ","year":2003,"disp":0},{"series":"002QZ","year":2004,"disp":-0.0018},{"series":"002QZ","year":2005,"disp":-0.0023},{"series":"002QZ","year":2006,"disp":-0.0021},{"series":"002QZ","year":2007,"disp":-0.0027},{"series":"002QZ","year":2008,"disp":-0.0065},{"series":"002QZ","year":2009,"disp":-0.007},{"series":"002QZ","year":2010,"disp":-0.0062},{"series":"002QZ","year":2011,"disp":-0.0063}
],
"f_hpl": [{"series":"HPL_8726","year":2011,"disp":-0.0037}],
"f_dot": [
{"year":2003,"disp":0},{"year":2003.06,"disp":0.0004},{"year":2003.12,"disp":0.0021},{"year":2003.22,"disp":0.0004},{"year":2003.31,"disp":0.0025},{"year":2003.4,"disp":0.0046},{"year":2003.5,"disp":0.0053},{"year":2003.61,"disp":0.0057},{"year":2003.68,"disp":0.0009},{"year":2003.78,"disp":-0.0022},{"year":2003.87,"disp":-0.0048},{"year":2003.94,"disp":0.0004},{"year":2004.02,"disp":-0.0048},{"year":2004.11,"disp":-0.0038},{"year":2004.18,"disp":-0.0106},{"year":2004.25,"disp":-0.009},{"year":2004.34,"disp":0.002},{"year":2004.41,"disp":0.0025},{"year":2004.46,"disp":-0.0027},{"year":2004.52,"disp":0.0067},{"year":2004.57,"disp":-0.0132},{"year":2004.65,"disp":-0.0027},{"year":2004.72,"disp":-0.0054},{"year":2004.8,"disp":-0.0075},{"year":2004.88,"disp":-0.0096},{"year":2004.94,"disp":-0.0027},{"year":2005.02,"disp":-0.0075},{"year":2005.11,"disp":-0.0054},{"year":2005.19,"disp":-0.0101},{"year":2005.29,"disp":0.0065},{"year":2005.36,"disp":-0.0069},{"year":2005.44,"disp":-0.0027},{"year":2005.52,"disp":-0.0043},{"year":2005.61,"disp":-0.0064},{"year":2005.71,"disp":0.0046},{"year":2005.79,"disp":-0.0038},{"year":2005.86,"disp":-0.0017},{"year":2005.94,"disp":-0.0064},{"year":2006.02,"disp":-0.0012},{"year":2006.11,"disp":-0.0085},{"year":2006.19,"disp":-0.0022},{"year":2006.27,"disp":-0.0017},{"year":2006.33,"disp":-0.0043},{"year":2006.42,"disp":-0.0033},{"year":2006.51,"disp":0.003},{"year":2006.59,"disp":-0.0054},{"year":2006.67,"disp":-0.0022},{"year":2006.75,"disp":-0.0048},{"year":2006.83,"disp":-0.0012},{"year":2006.91,"disp":0.0004},{"year":2006.98,"disp":-0.0022},{"year":2007.03,"disp":-0.0043},{"year":2007.1,"disp":-0.0085},{"year":2007.18,"disp":-0.0048},{"year":2007.25,"disp":-0.0054},{"year":2007.33,"disp":-0.0117},{"year":2007.42,"disp":-0.0006},{"year":2007.5,"disp":-0.0054},{"year":2007.57,"disp":0.0015},{"year":2007.61,"disp":0.0099},{"year":2007.67,"disp":-0.0017},{"year":2007.75,"disp":-0.0048},{"year":2007.83,"disp":-0.0027},{"year":2007.9,"disp":-0.0017},{"year":2008.0,"disp":-0.0001},{"year":2008.09,"disp":-0.0038},{"year":2008.19,"disp":-0.0033},{"year":2008.27,"disp":-0.0059},{"year":2008.34,"disp":-0.0054},{"year":2008.43,"disp":-0.0096},{"year":2008.48,"disp":-0.0159},{"year":2008.53,"disp":-0.0075},{"year":2008.6,"disp":0.0004},{"year":2008.68,"disp":-0.0033},{"year":2008.76,"disp":-0.0048},{"year":2008.84,"disp":-0.0012},{"year":2008.91,"disp":-0.0022},{"year":2008.96,"disp":0.002},{"year":2009.03,"disp":-0.0022},{"year":2009.11,"disp":-0.0064},{"year":2009.2,"disp":-0.0038},{"year":2009.27,"disp":-0.0027},{"year":2009.36,"disp":-0.0054},{"year":2009.44,"disp":-0.0033},{"year":2009.52,"disp":-0.0106},{"year":2009.6,"disp":-0.0027},{"year":2009.68,"disp":-0.0138},{"year":2009.76,"disp":-0.0064},{"year":2009.84,"disp":-0.0022},{"year":2009.94,"disp":-0.0075},{"year":2010.02,"disp":-0.0022},{"year":2010.1,"disp":-0.0043},{"year":2010.18,"disp":-0.0064},{"year":2010.27,"disp":-0.0075},{"year":2010.35,"disp":-0.0054},{"year":2010.45,"disp":-0.008},{"year":2010.53,"disp":0.0004},{"year":2010.62,"disp":-0.0012},{"year":2010.7,"disp":-0.0027},{"year":2010.78,"disp":-0.0038},{"year":2010.88,"disp":-0.0075},{"year":2010.94,"disp":-0.0054},{"year":2011,"disp":-0.0064}
]
},
"resolve": {"scale": {"color": "independent", "shape": "independent"}, "legend": {"color": "independent", "shape": "independent"}},
"spacing": 16,
"hconcat": [
{
"resolve": {"scale": {"color": "independent", "shape": "independent"}, "legend": {"color": "independent", "shape": "independent"}},
"spacing": 3,
"vconcat": [
{"width": 10, "height": 1, "view": {"stroke": null, "fill": null}, "data": {"name": "spacer"}, "mark": {"type": "point", "opacity": 0}, "encoding": {}},
{
"title": {"text": "a)", "anchor": "start", "fontSize": 26, "color": "#000000", "offset": -8},
"resolve": {"scale": {"color": "independent", "shape": "independent"}, "legend": {"color": "independent", "shape": "independent"}},
"vconcat": [{
"width": 515, "height": 245,
"title": {"text": "Lungolago Trieste", "fontSize": 15, "color": "#333333", "offset": 4},
"encoding": {
"x": {"field": "year", "type": "quantitative", "scale": {"domain": [2003, 2011.04], "nice": false, "zero": false}, "axis": {"values": [2003,2004,2005,2006,2007,2008,2009,2010,2011], "format": "d", "title": " ", "titleFontSize": 1, "titlePadding": 4, "labelPadding": 16, "labelFlush": false}},
"y": {"field": "disp", "type": "quantitative", "scale": {"domain": [-0.03, 0.01], "nice": false, "zero": false}, "axis": {"values": [-0.03,-0.025,-0.02,-0.015,-0.01,-0.005,0,0.005,0.01], "labelExpr": "''+datum.value", "title": "displacement (m)", "labelPadding": 10, "titlePadding": 13}}
},
"layer": [
{"data": {"name": "a_dot"}, "mark": {"type": "line", "color": "#555555", "strokeDash": [2,2], "strokeWidth": 1}, "encoding": {}},
{"data": {"name": "a_ln"}, "mark": {"type": "line", "strokeWidth": 1.8, "point": {"filled": true, "size": 14}}, "encoding": {"color": {"field": "series", "type": "nominal", "scale": {"domain": ["0026","002Q","0012J","133","0018B"], "range": ["#aa8534","#93cf6a","#5b8fd8","#ffc832","#5a9e3a"]}, "legend": {"title": null, "legendX": 30, "legendY": 6, "columnPadding": 12}}}},
{"data": {"name": "a_hpl"}, "mark": {"type": "point", "filled": true, "color": "#e00000", "size": 60, "opacity": 1}, "encoding": {"shape": {"field": "series", "type": "nominal", "scale": {"range": ["circle"]}, "legend": {"title": null, "legendX": 388, "legendY": 11, "symbolType": "circle", "symbolSize": 60, "symbolFillColor": "#e00000", "symbolStrokeColor": "#e00000"}}}}
]
}]
},
{
"title": {"text": "c)", "anchor": "start", "fontSize": 26, "color": "#000000", "offset": 0},
"resolve": {"scale": {"color": "independent", "shape": "independent"}, "legend": {"color": "independent", "shape": "independent"}},
"vconcat": [{
"width": 496, "height": 255,
"title": {"text": "Tempio Voltiano", "fontSize": 15, "color": "#333333", "offset": -3},
"encoding": {
"x": {"field": "year", "type": "quantitative", "scale": {"domain": [2003, 2011.06], "nice": false, "zero": false}, "axis": {"values": [2003,2004,2005,2006,2007,2008,2009,2010,2011], "format": "d", "title": " ", "titleFontSize": 1, "titlePadding": 4, "labelPadding": 16, "labelFlush": false}},
"y": {"field": "disp", "type": "quantitative", "scale": {"domain": [-0.03, 0.01], "nice": false, "zero": false}, "axis": {"values": [-0.03,-0.025,-0.02,-0.015,-0.01,-0.005,0,0.005,0.01], "labelExpr": "''+datum.value", "title": "Displacement (m)", "labelPadding": 14, "titlePadding": 9}}
},
"layer": [
{"data": {"name": "c_dot"}, "mark": {"type": "line", "color": "#555555", "strokeDash": [2,2], "strokeWidth": 1}, "encoding": {"detail": {"field": "trace", "type": "nominal"}}},
{"data": {"name": "c_ln"}, "mark": {"type": "line", "strokeWidth": 1.8, "point": {"filled": true, "size": 14}}, "encoding": {"color": {"field": "series", "type": "nominal", "scale": {"domain": ["0015N","0016F","171","172","0017L"], "range": ["#4d8a2e","#f5a47a","#ffc832","#93cf6a","#e0702f"]}, "legend": {"title": null, "legendX": 84, "legendY": 12, "columnPadding": 4}}}},
{"data": {"name": "c_hpl"}, "mark": {"type": "point", "filled": true, "color": "#e00000", "size": 60, "opacity": 1}, "encoding": {"shape": {"field": "series", "type": "nominal", "scale": {"range": ["circle"]}, "legend": {"title": null, "legendX": 401, "legendY": 17, "symbolType": "circle", "symbolSize": 60, "symbolFillColor": "#e00000", "symbolStrokeColor": "#e00000"}}}}
]
}]
},
{
"title": {"text": "e)", "anchor": "start", "fontSize": 26, "color": "#000000", "offset": -1},
"resolve": {"scale": {"color": "independent", "shape": "independent"}, "legend": {"color": "independent", "shape": "independent"}},
"vconcat": [{
"width": 525, "height": 245,
"title": {"text": "Lungolago Trento", "fontSize": 15, "color": "#333333", "offset": 6},
"encoding": {
"x": {"field": "year", "type": "quantitative", "scale": {"domain": [2003, 2011.06], "nice": false, "zero": false}, "axis": {"values": [2003,2004,2005,2006,2007,2008,2009,2010,2011], "format": "d", "title": null, "labelPadding": 15, "labelFlush": false}},
"y": {"field": "disp", "type": "quantitative", "scale": {"domain": [-0.06, 0.01], "nice": false, "zero": false}, "axis": {"values": [-0.06,-0.05,-0.04,-0.03,-0.02,-0.01,0,0.01], "labelExpr": "''+datum.value", "title": "Displacement (m)", "labelPadding": 24, "titlePadding": 6}}
},
"layer": [
{"data": {"name": "e_dot"}, "mark": {"type": "line", "color": "#555555", "strokeDash": [2,2], "strokeWidth": 1}, "encoding": {}},
{"data": {"name": "e_ln"}, "mark": {"type": "line", "strokeWidth": 1.8, "point": {"filled": true, "size": 14}}, "encoding": {"color": {"field": "series", "type": "nominal", "scale": {"domain": ["213","258","259","0026H","0027U"], "range": ["#7cc04f","#2e75b6","#c55a11","#666666","#bf9000"]}, "legend": {"title": null, "legendX": 6, "legendY": 3, "columnPadding": 19}}}},
{"data": {"name": "e_hpl"}, "mark": {"type": "point", "filled": true, "color": "#e00000", "size": 60, "opacity": 1}, "encoding": {"shape": {"field": "series", "type": "nominal", "scale": {"range": ["circle"]}, "legend": {"title": null, "legendX": 396, "legendY": 8, "symbolType": "circle", "symbolSize": 60, "symbolFillColor": "#e00000", "symbolStrokeColor": "#e00000"}}}}
]
}]
}
]
},
{
"resolve": {"scale": {"color": "independent", "shape": "independent"}, "legend": {"color": "independent", "shape": "independent"}},
"spacing": 0,
"vconcat": [
{"width": 10, "height": 1, "view": {"stroke": null, "fill": null}, "data": {"name": "spacer"}, "mark": {"type": "point", "opacity": 0}, "encoding": {}},
{
"title": {"text": "b)", "anchor": "start", "fontSize": 26, "color": "#000000", "offset": 11},
"vconcat": [{
"width": 546, "height": 184,
"title": {"text": "Lake Levels", "fontSize": 15, "color": "#333333", "offset": 6},
"data": {"name": "lake"},
"mark": {"type": "line", "color": "#1f4e79", "strokeWidth": 2.4},
"encoding": {
"x": {"field": "date", "type": "temporal", "scale": {"type": "utc", "nice": false, "domain": [{"year": 2004, "month": 1, "date": 18, "utc": true}, {"year": 2012, "month": 3, "date": 2, "utc": true}]}, "axis": {"values": [{"year":2004,"month":1,"date":18,"utc":true},{"year":2004,"month":9,"date":23,"utc":true},{"year":2005,"month":5,"date":30,"utc":true},{"year":2006,"month":2,"date":3,"utc":true},{"year":2006,"month":10,"date":10,"utc":true},{"year":2007,"month":6,"date":16,"utc":true},{"year":2008,"month":2,"date":20,"utc":true},{"year":2008,"month":10,"date":26,"utc":true},{"year":2009,"month":7,"date":2,"utc":true},{"year":2010,"month":3,"date":8,"utc":true},{"year":2010,"month":11,"date":12,"utc":true},{"year":2011,"month":7,"date":19,"utc":true}], "labelExpr": "utcFormat(datum.value, '%m/%Y')", "labelAngle": 75, "labelAlign": "left", "labelBaseline": "middle", "title": " ", "titleFontSize": 1, "titlePadding": 20, "ticks": true, "tickSize": 5, "tickColor": "#8a8a8a", "labelPadding": 7}},
"y": {"field": "level", "type": "quantitative", "scale": {"domain": [195.5, 198.5], "nice": false, "zero": false}, "axis": {"values": [195.5,196,196.5,197,197.5,198,198.5], "format": ".1f", "title": null, "labelPadding": 14}}
}
}]
},
{
"title": {"text": "d)", "anchor": "start", "fontSize": 26, "color": "#000000", "offset": -14},
"resolve": {"scale": {"color": "independent", "shape": "independent"}, "legend": {"color": "independent", "shape": "independent"}},
"vconcat": [{
"width": 512, "height": 252,
"title": {"text": "Cavour", "fontSize": 15, "color": "#333333", "offset": 4},
"encoding": {
"x": {"field": "year", "type": "quantitative", "scale": {"domain": [2003, 2011.05], "nice": false, "zero": false}, "axis": {"values": [2003,2004,2005,2006,2007,2008,2009,2010,2011], "format": "d", "title": " ", "titleFontSize": 1, "titlePadding": 20, "labelPadding": 16, "labelFlush": false}},
"y": {"field": "disp", "type": "quantitative", "scale": {"domain": [-0.04, 0.01], "nice": false, "zero": false}, "axis": {"values": [-0.04,-0.03,-0.02,-0.01,0,0.01], "labelExpr": "datum.value < 0 ? '-' + format(-datum.value, '.2f') : format(datum.value, '.2f')", "title": "Displacement (m)", "labelPadding": 11, "titlePadding": 9}}
},
"layer": [
{"data": {"name": "d_dot"}, "mark": {"type": "line", "color": "#555555", "strokeDash": [2,2], "strokeWidth": 1}, "encoding": {"detail": {"field": "trace", "type": "nominal"}}},
{"data": {"name": "d_ln"}, "mark": {"type": "line", "strokeWidth": 1.8, "point": {"filled": true, "size": 14}}, "encoding": {"color": {"field": "series", "type": "nominal", "scale": {"domain": ["001MT","001NQ","001OV","257","0026E"], "range": ["#7cc04f","#2e6db4","#c0622c","#7f7f7f","#b8932c"]}, "legend": {"title": null, "legendX": 7, "legendY": 7, "columnPadding": 20}}}},
{"data": {"name": "d_hpl"}, "mark": {"type": "point", "filled": true, "color": "#e00000", "size": 60, "opacity": 1}, "encoding": {"shape": {"field": "series", "type": "nominal", "scale": {"range": ["circle"]}, "legend": {"title": null, "legendX": 430, "legendY": 12, "symbolType": "circle", "symbolSize": 60, "symbolFillColor": "#e00000", "symbolStrokeColor": "#e00000"}}}}
]
}]
},
{
"title": {"text": "f)", "anchor": "start", "fontSize": 26, "color": "#000000", "offset": -10},
"resolve": {"scale": {"color": "independent", "shape": "independent"}, "legend": {"color": "independent", "shape": "independent"}},
"vconcat": [{
"width": 531, "height": 254,
"title": {"text": "Duomo", "fontSize": 15, "color": "#333333", "offset": 0},
"encoding": {
"x": {"field": "year", "type": "quantitative", "scale": {"domain": [2003, 2011.04], "nice": false, "zero": false}, "axis": {"values": [2003,2004,2005,2006,2007,2008,2009,2010,2011], "format": "d", "title": null, "labelPadding": 13, "labelFlush": false}},
"y": {"field": "disp", "type": "quantitative", "scale": {"domain": [-0.03, 0.01], "nice": false, "zero": false}, "axis": {"values": [-0.03,-0.025,-0.02,-0.015,-0.01,-0.005,0,0.005,0.01], "labelExpr": "''+datum.value", "title": "Displacement (m)", "labelPadding": 11, "titlePadding": 9}}
},
"layer": [
{"data": {"name": "f_dot"}, "mark": {"type": "line", "color": "#555555", "strokeDash": [2,2], "strokeWidth": 1}, "encoding": {}},
{"data": {"name": "f_ln"}, "mark": {"type": "line", "strokeWidth": 1.8, "point": {"filled": true, "size": 14}}, "encoding": {"color": {"field": "series", "type": "nominal", "scale": {"domain": ["002HH","002J3","002KR","002NV","002QZ"], "range": ["#70ad47","#6a3fbf","#f2f200","#ff0000","#a5822a"]}, "legend": {"title": null, "legendX": 45, "legendY": 213, "columnPadding": 4}}}},
{"data": {"name": "f_hpl"}, "mark": {"type": "point", "filled": true, "color": "#e00000", "size": 60, "opacity": 1}, "encoding": {"shape": {"field": "series", "type": "nominal", "scale": {"range": ["circle"]}, "legend": {"title": null, "legendX": 405, "legendY": 218, "symbolType": "circle", "symbolSize": 60, "symbolFillColor": "#e00000", "symbolStrokeColor": "#e00000"}}}}
]
}]
}
]
}
]
}
